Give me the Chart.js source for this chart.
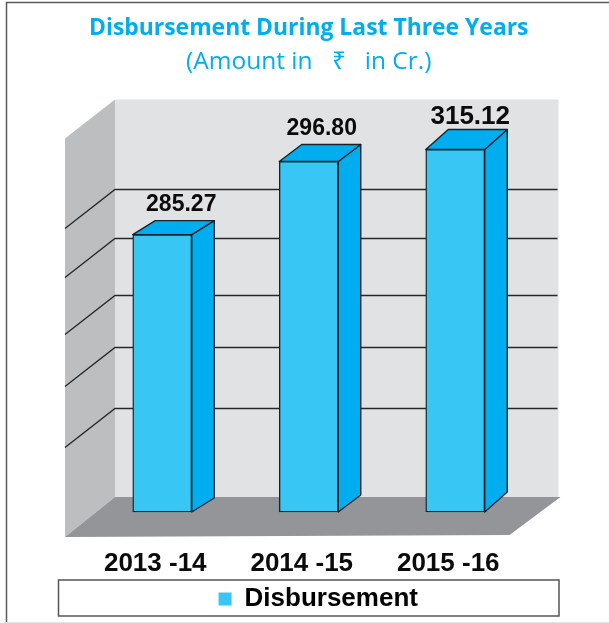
<!DOCTYPE html>
<html>
<head>
<meta charset="utf-8">
<style>html,body{margin:0;padding:0;background:#fff}#w{width:609px;height:623px}canvas{display:block}</style>
<script src="https://cdn.jsdelivr.net/npm/chart.js@4/dist/chart.umd.js"></script>
</head>
<body>
<div id="w"><canvas id="c" width="609" height="623"></canvas></div>
<script>
const categories = ['2013 -14', '2014 -15', '2015 -16'];
const seriesName = 'Disbursement';
const disbursement = [285.27, 296.80, 315.12];
const valueLabels = ['285.27', '296.80', '315.12'];
const titleText = 'Disbursement During Last Three Years';
const subtitleText = '(Amount in  \u00A0\u20B9\u00A0  in Cr.)';
// axis values of the wall's rules (the picture prints no value axis)
const gridValues = [107, 170, 223.5, 282, 292.5];
// the picture's axis is not uniform: value -> share of the plot height
const axisStops = [[0, 0], [285.27, 0.6723], [296.80, 0.8495], [315.12, 0.8786], [350, 1]];
// drawing style per bar
const depthY = [14, 17, 20];
const labelShiftX = [19, 13, 15];
const labelGap = [10, 10, 6];
const labelSize = [23, 23, 26];

class StopsScale extends Chart.LinearScale {
  getPixelForValue(v) {
    let f = 1;
    for (let i = 1; i < axisStops.length; i++) {
      const a = axisStops[i - 1], b = axisStops[i];
      if (v <= b[0]) { f = a[1] + (v - a[0]) / (b[0] - a[0]) * (b[1] - a[1]); break; }
    }
    return this.bottom - f * (this.bottom - this.top);
  }
}
StopsScale.id = 'stops';
StopsScale.defaults = Chart.LinearScale.defaults;
Chart.register(StopsScale);

function poly(ctx, pts, fill, stroke, lw) {
  ctx.beginPath();
  pts.forEach((p, i) => i ? ctx.lineTo(p[0], p[1]) : ctx.moveTo(p[0], p[1]));
  ctx.closePath();
  if (fill) { ctx.fillStyle = fill; ctx.fill(); }
  if (stroke) { ctx.strokeStyle = stroke; ctx.lineWidth = lw; ctx.lineJoin = 'round'; ctx.stroke(); }
}
const EDGE = '#14242c', SIDE = '#00AEEF', FRONT = '#38C6F5';

const scene = {
  id: 'scene',
  afterLayout(chart) { chart.legend.left += 9.5; chart.legend.right += 9.5; },
  beforeDraw(chart) {
    const c = chart.ctx;
    c.save();
    c.fillStyle = '#fff'; c.fillRect(0, 0, chart.width, chart.height);
    c.strokeStyle = '#5a5a5a'; c.lineWidth = 1.5;
    c.beginPath(); c.moveTo(6.5, chart.height); c.lineTo(6.5, 2.5); c.lineTo(chart.width, 2.5); c.stroke();
    c.strokeStyle = '#e4e4e4'; c.lineWidth = 1;
    c.beginPath(); c.moveTo(6, chart.height - 0.5); c.lineTo(chart.width, chart.height - 0.5); c.stroke();
    // legend frame
    c.strokeStyle = '#555'; c.lineWidth = 1.5;
    c.strokeRect(58.5, 580, 500.5, 36);
    c.restore();
  },
  beforeDatasetsDraw(chart) {
    const c = chart.ctx, a = chart.chartArea, y = chart.scales.y;
    const L = a.left + 26, R = a.right + 30, T = a.top, B = a.bottom - 15, dx = 50, dy = 40;
    c.save();
    poly(c, [[L, T], [R, T], [R, B], [L, B]], '#E1E2E4');
    poly(c, [[L, T], [L - dx, T + dy - 1], [L - dx, B + dy], [L, B]], '#BCBEC0');
    poly(c, [[L, B], [R + 2, B], [R - 49, B + dy - 2], [L - dx, B + dy]], '#939598');
    c.strokeStyle = '#24282a'; c.lineWidth = 1.3;
    y.ticks.forEach(t => {
      const py = Math.round(y.getPixelForValue(t.value)) + 0.5;
      c.beginPath();
      c.moveTo(L - dx, py + dy - 1); c.lineTo(L, py); c.lineTo(R - 1, py);
      c.stroke();
    });
    const meta = chart.getDatasetMeta(0);
    meta.data.forEach((el, i) => {
      const l = el.x - el.width / 2, r = el.x + el.width / 2, d = depthY[i], w = 22.5;
      poly(c, [[r, el.y], [r + w, el.y - d], [r + w, el.base - d], [r, el.base]], SIDE, EDGE, 1.4);
      poly(c, [[l, el.y], [l + w, el.y - d], [r + w, el.y - d], [r, el.y]], SIDE, EDGE, 1.4);
    });
    c.restore();
  },
  afterDatasetsDraw(chart) {
    const c = chart.ctx, meta = chart.getDatasetMeta(0);
    c.save();
    c.fillStyle = '#0b0b0b'; c.textAlign = 'center'; c.textBaseline = 'alphabetic';
    meta.data.forEach((el, i) => {
      c.font = 'bold ' + labelSize[i] + 'px "Liberation Sans", Arial, sans-serif';
      c.fillText(valueLabels[i], el.x + labelShiftX[i], el.y - depthY[i] - labelGap[i]);
    });
    c.restore();
  }
};

new Chart(document.getElementById('c'), {
  type: 'bar',
  data: {
    labels: categories,
    datasets: [{
      label: seriesName,
      data: disbursement,
      backgroundColor: FRONT,
      borderColor: EDGE,
      borderWidth: 1.4,
      borderSkipped: false,
      clip: 4,
      barThickness: 59
    }]
  },
  plugins: [scene],
  options: {
    responsive: false,
    animation: false,
    layout: { padding: { left: 89, right: 80.5, top: 0, bottom: 1 } },
    scales: {
      x: {
        grid: { display: false, drawTicks: false },
        border: { display: false },
        afterFit(s) { s.height = 64; },
        ticks: {
          padding: 36.5, labelOffset: -7, maxRotation: 0,
          color: '#0b0b0b',
          font: { family: '"Liberation Sans", Arial, sans-serif', size: 26, weight: 'bold' }
        }
      },
      y: {
        type: 'stops',
        min: 0, max: 350,
        grid: { display: false, drawTicks: false },
        border: { display: false },
        ticks: { display: false },
        afterFit(s) { s.width = 0; },
        afterBuildTicks(s) { s.ticks = gridValues.map(v => ({ value: v })); }
      }
    },
    plugins: {
      tooltip: { enabled: false },
      title: {
        display: true, text: titleText, color: '#00AEEF',
        padding: { top: 14, bottom: 5 },
        font: { family: '"Open Sans", sans-serif', size: 23.8, weight: 'bold', lineHeight: 1.2 }
      },
      subtitle: {
        display: true, text: subtitleText, color: '#00AEEF',
        padding: { top: 0, bottom: 22.5 },
        font: { family: '"Open Sans", sans-serif', size: 24.5, weight: 'normal', lineHeight: 1.2 }
      },
      legend: {
        position: 'bottom',
        labels: {
          boxWidth: 13, boxHeight: 13, padding: 10, color: '#0b0b0b',
          font: { family: '"Liberation Sans", Arial, sans-serif', size: 26, weight: 'bold' },
          generateLabels() {
            return [{ text: seriesName, fillStyle: FRONT, strokeStyle: FRONT, lineWidth: 0, datasetIndex: 0, hidden: false }];
          }
        }
      }
    }
  }
});
</script>
</body>
</html>
